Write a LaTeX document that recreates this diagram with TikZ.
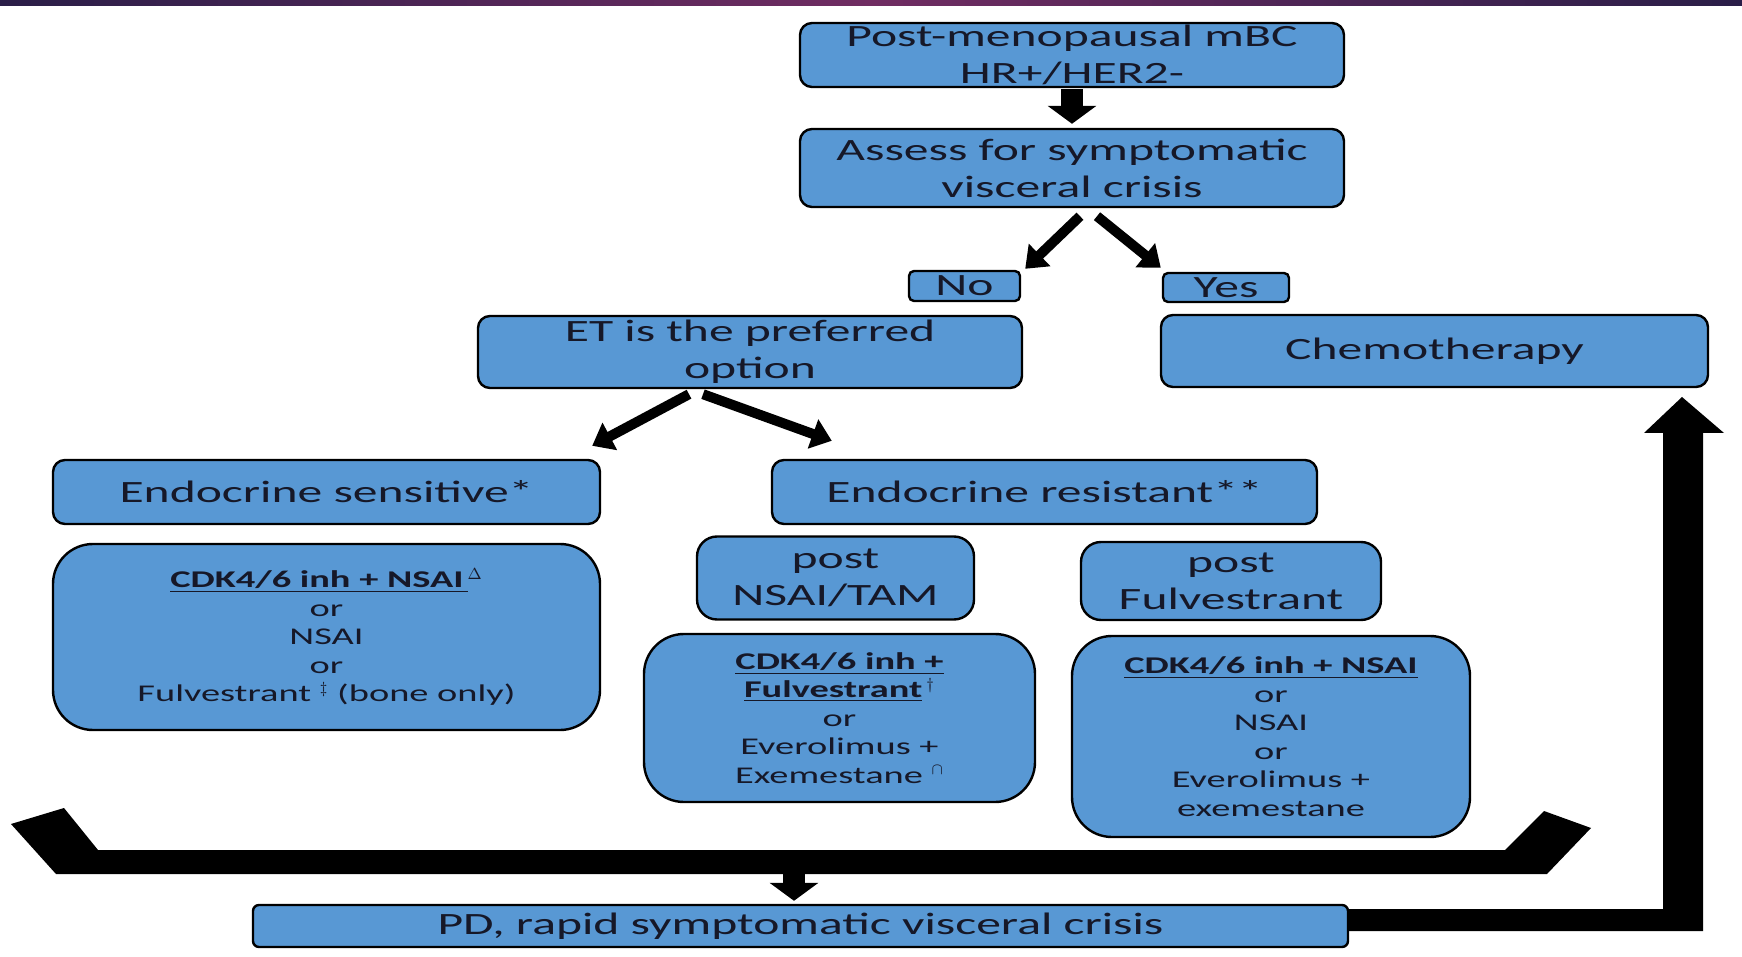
\documentclass[tikz,border=0pt]{standalone}
\usepackage{fontspec}
\usepackage{xcolor}
\usepackage{tikz}
\usetikzlibrary{arrows.meta, calc}
\newfontfamily\boxfont{Carlito}[FakeStretch=1.6]
\definecolor{boxblue}{RGB}{88,152,212}
\definecolor{ink}{RGB}{22,24,40}
\definecolor{barpurple}{RGB}{112,44,98}
\definecolor{bardark}{RGB}{42,30,72}

\begin{document}
\begin{tikzpicture}[x=0.5pt, y=-0.5pt,
  box/.style={draw=black, line width=1.2pt, fill=boxblue, text=ink,
              rounded corners=6pt, align=center, inner sep=0pt,
              font=\fontsize{15.5}{18.5}\selectfont\boxfont},
  tag/.style={box, rounded corners=2.5pt},
  post/.style={box, rounded corners=10pt},
  drug/.style={box, rounded corners=20pt,
               font=\fontsize{12}{14.25}\selectfont\boxfont},
  fat/.style={line width=11pt, -{Triangle[width=24pt, length=9pt]}},
  slant/.style={line width=5pt, -{Triangle[width=15pt, length=10pt]}}]
\useasboundingbox (0,0) rectangle (1742,957);
\fill[left color=bardark, right color=bardark, middle color=barpurple]
  (0,0) rectangle (1742,6);

% top of the chart
\node[box, minimum width=272pt, minimum height=32pt] (meno) at (1072,55)
  {Post-menopausal mBC\\HR+/HER2-};
\node[box, minimum width=272pt, minimum height=39pt] (assess) at (1072,168)
  {Assess for symptomatic\\visceral crisis};
\node[tag, minimum width=55.5pt, minimum height=15pt] (no) at (964.5,286) {No};
\node[tag, minimum width=63pt, minimum height=14.5pt] (yes) at (1226,287.5) {Yes};
\node[box, minimum width=272pt, minimum height=36pt] (et) at (750,352)
  {ET is the preferred\\option};
\node[box, minimum width=273.5pt, minimum height=36pt] (chemo) at (1434.5,351)
  {Chemotherapy};

% endocrine branches
\node[box, minimum width=273.5pt, minimum height=32pt] (sens) at (326.5,492)
  {Endocrine sensitive*};
\node[box, minimum width=272.5pt, minimum height=32pt] (resist) at (1044.5,492)
  {Endocrine resistant**};
\node[drug, minimum width=273.5pt, minimum height=93pt] (firstline) at (326.5,637)
  {\underline{\textbf{CDK4/6 inh + NSAI\,}}$^{\Delta}$\\or\\NSAI\\or\\
   Fulvestrant $^{\ddagger}$ (bone only)};
\node[post, minimum width=138.5pt, minimum height=41.5pt] (postnsai) at (835.5,578)
  {post\\NSAI/TAM};
\node[post, minimum width=150pt, minimum height=39pt] (postfulv) at (1231,581)
  {post\\Fulvestrant};
\node[drug, minimum width=195.5pt, minimum height=84pt] (afternsai) at (839.5,718)
  {\underline{\textbf{CDK4/6 inh +}}\\\underline{\textbf{Fulvestrant}}\,$^{\dagger}$\\or\\
   Everolimus +\\Exemestane $^{\cap}$};
\node[drug, minimum width=199pt, minimum height=100.5pt] (afterfulv) at (1271,736.5)
  {\underline{\textbf{CDK4/6 inh + NSAI}}\\or\\NSAI\\or\\Everolimus +\\exemestane};
\node[box, rounded corners=3pt, minimum width=547.5pt, minimum height=21pt] (pd)
  at (800.5,926) {PD, rapid symptomatic visceral crisis};

% arrows
\draw[fat, shorten <=0.5pt, shorten >=2pt] (meno.south) -- (assess.north);
\draw[slant] ($(assess.south)+(8,8)$) -- ($(no.north east)+(4,-1)$);
\draw[slant] ($(assess.south)+(25,8)$) -- ($(yes.north west)+(-1,-4)$);
\draw[slant] ($(et.south)+(-61,5)$) -- ($(sens.north east)+(-9,-13)$);
\draw[slant] ($(et.south)+(-47,5)$) -- ($(resist.north west)+(61,-18)$);

% bracket gathering the lines of treatment
\fill (11,824) -- (64,808) -- (98,850) -- (1505,850) -- (1544,811)
  -- (1591,828) -- (1547,874) -- (56,874) -- cycle;
\coordinate (join) at (794,874);
\draw[fat, shorten >=1.5pt] (join) -- (join |- pd.north);

% back to chemotherapy
\fill (pd.east |- 0,909) -- (1663,909) -- (1663,433) -- (1644,433)
  -- (1682,397) -- (1724,433) -- (1703,433) -- (1703,931)
  -- (pd.east |- 0,931) -- cycle;
\end{tikzpicture}
\end{document}
